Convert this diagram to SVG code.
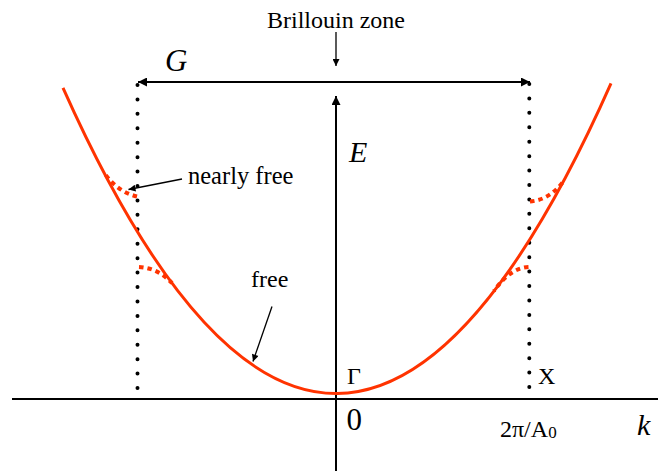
<svg xmlns="http://www.w3.org/2000/svg" width="658" height="471" viewBox="0 0 658 471">
<defs>
<style>
.t{font-family:"Liberation Serif","Times New Roman",serif;fill:#000}
.i{font-style:italic}
.ax{stroke:#000;stroke-width:2;fill:none}
.dot{stroke:#000;stroke-width:4;stroke-linecap:round;stroke-dasharray:0 14.43;fill:none}
.band{stroke:#ff3300;stroke-width:3;fill:none}
.gap{stroke:#ff3300;stroke-width:4;stroke-dasharray:4.5 4;fill:none}
.thin{stroke:#000;stroke-width:1.3;fill:none}
</style>
<marker id="ah" viewBox="0 0 10 10" refX="10" refY="5" markerWidth="10" markerHeight="9" markerUnits="userSpaceOnUse" orient="auto-start-reverse">
<path d="M0,0 L10,5 L0,10 z" fill="#000"/>
</marker>
<marker id="ahs" viewBox="0 0 10 10" refX="10" refY="5" markerWidth="8" markerHeight="7" markerUnits="userSpaceOnUse" orient="auto">
<path d="M0,0 L10,5 L0,10 z" fill="#000"/>
</marker>
</defs>
<g id="axes">
<line class="ax" x1="12" y1="399" x2="658" y2="399"/>
<line class="ax" x1="336" y1="471" x2="336" y2="96" marker-end="url(#ah)"/>
</g>
<g id="zone-boundaries">
<line class="dot" x1="137.5" y1="85" x2="137.5" y2="389"/>
<line class="dot" x1="529.3" y1="84" x2="529.3" y2="389"/>
</g>
<g id="free-band">
<path class="band" d="M63,87.9 Q337,701.3 611,83.4"/>
</g>
<g id="nearly-free-bands">
<path class="gap" d="M137,196.5 Q118,192 104.5,173.5"/>
<path class="gap" d="M139,267 Q158,268 172,283.2"/>
<path class="gap" d="M530,201.5 Q549,200 563,182"/>
<path class="gap" d="M528.5,267 Q510,268 494,291"/>
</g>
<g id="connectors">
<line class="ax" x1="138" y1="82" x2="530" y2="82" marker-start="url(#ah)" marker-end="url(#ah)"/>
<line class="thin" x1="336" y1="32" x2="336" y2="66" marker-end="url(#ahs)"/>
<line class="thin" x1="182" y1="179" x2="128.5" y2="189.5" marker-end="url(#ahs)"/>
<line class="thin" x1="272" y1="306.5" x2="253" y2="361.5" marker-end="url(#ahs)"/>
</g>
<g id="labels">
<text class="t" x="336" y="28" font-size="24" text-anchor="middle">Brillouin zone</text>
<text class="t i" x="165" y="71" font-size="31">G</text>
<text class="t i" x="349" y="162" font-size="30">E</text>
<text class="t" x="188" y="183.5" font-size="24.5">nearly free</text>
<text class="t" x="251" y="286.5" font-size="24">free</text>
<text class="t" x="347" y="383.5" font-size="24">Γ</text>
<text class="t" x="538" y="383.5" font-size="24">X</text>
<text class="t" x="346.5" y="430" font-size="31">0</text>
<text class="t" x="500" y="436.5" font-size="24">2π/A<tspan font-size="17" dy="1.5">0</tspan></text>
<text class="t i" x="637" y="435" font-size="30">k</text>
</g>
</svg>
